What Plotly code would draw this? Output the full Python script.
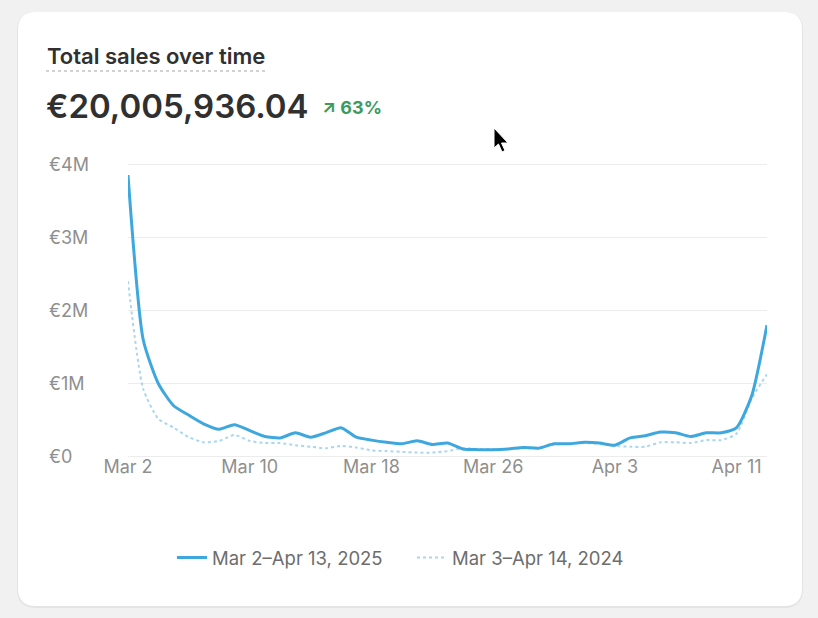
import plotly.graph_objects as go
import pandas as pd

# daily dates for the current period, previous year plotted on the same days
dates = pd.date_range("2025-03-02", "2025-04-13", freq="D")

# total sales per day, in millions of euros
sales_2025 = [3.85, 1.60, 1.00, 0.70, 0.57, 0.45, 0.38, 0.44, 0.36, 0.28,
              0.26, 0.33, 0.27, 0.33, 0.40, 0.27, 0.23, 0.20, 0.18, 0.22,
              0.17, 0.19, 0.11, 0.10, 0.10, 0.11, 0.13, 0.12, 0.18, 0.18,
              0.20, 0.19, 0.16, 0.26, 0.29, 0.34, 0.33, 0.28, 0.33, 0.33,
              0.40, 0.84, 1.80]
sales_2024 = [2.40, 0.93, 0.52, 0.40, 0.27, 0.20, 0.22, 0.30, 0.22, 0.19,
              0.19, 0.16, 0.14, 0.12, 0.15, 0.13, 0.09, 0.08, 0.07, 0.06,
              0.06, 0.08, 0.12, 0.11, 0.11, 0.11, 0.12, 0.12, 0.17, 0.18,
              0.19, 0.18, 0.15, 0.14, 0.14, 0.20, 0.20, 0.19, 0.23, 0.23,
              0.32, 0.80, 1.13]

series_names = ["Mar 2\u2013Apr 13, 2025", "Mar 3\u2013Apr 14, 2024"]

x_tick_dates = ["2025-03-02", "2025-03-10", "2025-03-18", "2025-03-26", "2025-04-03", "2025-04-11"]
x_tick_labels = ["Mar 2", "Mar 10", "Mar 18", "Mar 26", "Apr 3", "Apr 11"]
y_tick_vals = [0, 1, 2, 3, 4]
y_tick_labels = ["\u20ac0", "\u20ac1M", "\u20ac2M", "\u20ac3M", "\u20ac4M"]

title_text = "Total sales over time"
total_text = "\u20ac20,005,936.04"
change_text = "\u2197 63%"

W, H = 818, 618
L, R, T, B = 128, 767, 163, 458   # plot area in pixels


def px(x):
    return (x - L) / (R - L)


def py(y):
    return (B - y) / (B - T)


def rounded_rect(x0, y0, x1, y1, r):
    return (f"M {px(x0 + r)} {py(y0)} L {px(x1 - r)} {py(y0)} "
            f"Q {px(x1)} {py(y0)} {px(x1)} {py(y0 + r)} "
            f"L {px(x1)} {py(y1 - r)} Q {px(x1)} {py(y1)} {px(x1 - r)} {py(y1)} "
            f"L {px(x0 + r)} {py(y1)} Q {px(x0)} {py(y1)} {px(x0)} {py(y1 - r)} "
            f"L {px(x0)} {py(y0 + r)} Q {px(x0)} {py(y0)} {px(x0 + r)} {py(y0)} Z")


FONT = "Inter, 'Noto Sans', sans-serif"
BLUE = "#3ea8de"
LIGHT_BLUE = "#a9d7ef"
GREY = "#8f8f8f"

fig = go.Figure()

# previous period first so the current one sits on top
fig.add_trace(go.Scatter(
    x=dates, y=sales_2024, name=series_names[1], mode="lines",
    line=dict(color=LIGHT_BLUE, width=2, dash="dot", shape="spline", smoothing=0.6),
))
fig.add_trace(go.Scatter(
    x=dates, y=sales_2025, name=series_names[0], mode="lines",
    line=dict(color=BLUE, width=3, shape="spline", smoothing=0.6),
))

shapes = [
    # card shadow + card
    dict(type="path", xref="paper", yref="paper", layer="below",
         path=rounded_rect(17, 12, 803, 608, 19), fillcolor="#e4e4e4", line_width=0),
    dict(type="path", xref="paper", yref="paper", layer="below",
         path=rounded_rect(18, 12, 802, 606, 18), fillcolor="white", line_width=0),
    # dotted underline under the title
    dict(type="line", xref="paper", yref="paper", x0=px(46), x1=px(268), y0=py(71), y1=py(71),
         line=dict(color="#c4c4c4", width=1.5, dash="dot")),
    # mouse pointer from the screenshot
    dict(type="path", xref="paper", yref="paper", layer="above",
         path=(f"M {px(494)} {py(128)} L {px(494)} {py(148)} L {px(498.5)} {py(144)} "
               f"L {px(502)} {py(152)} L {px(505)} {py(150.5)} L {px(501.5)} {py(143)} "
               f"L {px(508)} {py(143)} Z"),
         fillcolor="black", line=dict(color="white", width=1)),
]

annotations = [
    dict(text=title_text, x=px(45), y=py(56), xref="paper", yref="paper",
         xanchor="left", yanchor="middle", showarrow=False,
         font=dict(family=FONT, size=22, color="#303030", weight=600)),
    dict(text=total_text, x=px(44), y=py(106), xref="paper", yref="paper",
         xanchor="left", yanchor="middle", showarrow=False,
         font=dict(family=FONT, size=33, color="#303030", weight=600)),
    dict(text=change_text, x=px(320), y=py(107), xref="paper", yref="paper",
         xanchor="left", yanchor="middle", showarrow=False,
         font=dict(family=FONT, size=18, color="#3a9a62", weight=700)),
]
for val, lab in zip(y_tick_vals, y_tick_labels):
    annotations.append(dict(text=lab, x=px(47), y=val, xref="paper", yref="y",
                            xanchor="left", yanchor="middle", showarrow=False,
                            font=dict(family=FONT, size=18, color=GREY)))

fig.update_layout(
    width=W, height=H,
    margin=dict(l=L, r=W - R, t=T, b=H - B),
    paper_bgcolor="#f1f1f1",
    plot_bgcolor="rgba(0,0,0,0)",
    font=dict(family=FONT, color=GREY),
    showlegend=True,
    legend=dict(orientation="h", x=px(172), xanchor="left", y=py(558), yanchor="middle",
                font=dict(family=FONT, size=18.5, color="#6d6d6d"),
                traceorder="reversed", itemwidth=30, bgcolor="rgba(0,0,0,0)",
                entrywidth=195, entrywidthmode="pixels"),
    shapes=shapes,
    annotations=annotations,
)

fig.update_xaxes(
    type="date", range=["2025-03-02", "2025-04-13"],
    tickvals=x_tick_dates, ticktext=x_tick_labels,
    showgrid=False, zeroline=False, showline=False, ticks="",
    ticklabelstandoff=-4,
    tickfont=dict(family=FONT, size=18, color=GREY),
)
fig.update_yaxes(
    range=[-0.014, 4.014], tickvals=y_tick_vals, showticklabels=False,
    showgrid=True, gridcolor="#ececec", gridwidth=1, zeroline=False, showline=False,
)

fig.write_html("out.html", config={"displayModeBar": False},
               post_script="document.body.style.margin='0';")
